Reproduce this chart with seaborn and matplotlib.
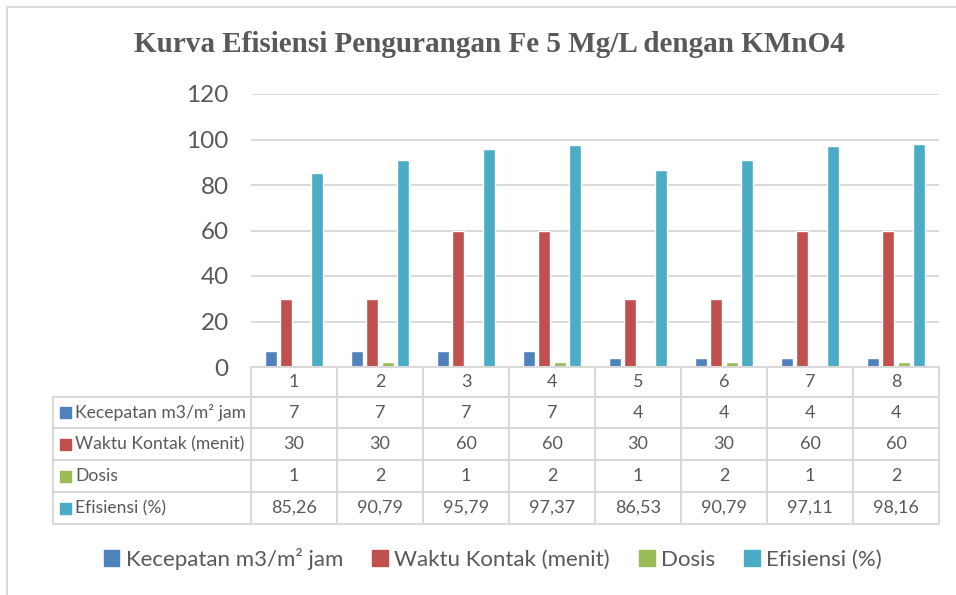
import pandas as pd
import seaborn as sns
import matplotlib.pyplot as plt
import matplotlib.transforms as mtransforms
from matplotlib.patches import Rectangle, Patch
from matplotlib.lines import Line2D

# data
percobaan = ['1', '2', '3', '4', '5', '6', '7', '8']
seri = ['Kecepatan m3/m² jam', 'Waktu Kontak (menit)', 'Dosis', 'Efisiensi (%)']
kecepatan = [7, 7, 7, 7, 4, 4, 4, 4]
waktu_kontak = [30, 30, 60, 60, 30, 30, 60, 60]
dosis = [1, 2, 1, 2, 1, 2, 1, 2]
efisiensi = [85.26, 90.79, 95.79, 97.37, 86.53, 90.79, 97.11, 98.16]
warna = ['#4F81BD', '#C0504D', '#9BBB59', '#4BACC6']

nilai = [kecepatan, waktu_kontak, dosis, efisiensi]
df = pd.DataFrame({
    'Percobaan': percobaan * 4,
    'Seri': [s for s in seri for _ in percobaan],
    'Nilai': [v for vals in nilai for v in vals],
})

W, H = 956, 595
GRAY = '#D9D9D9'
TXT = '#595959'
sns.set_style('white')
plt.rcParams['font.family'] = ['Lato', 'DejaVu Sans']

fig = plt.figure(figsize=(W / 100, H / 100), dpi=100)


def fx(x):
    return x / W


def fy(y):
    return 1 - y / H


ax = fig.add_axes([fx(251), fy(367), fx(939) - fx(251), fy(94) - fy(367)])
sns.barplot(data=df, x='Percobaan', y='Nilai', hue='Seri', palette=warna,
            saturation=1, width=0.71, gap=0.2, errorbar=None, legend=False, ax=ax)
ax.set_xlim(-0.5, len(percobaan) - 0.5)
ax.set_ylim(0, 120)
ax.set_yticks(range(0, 121, 20))
ax.set_xticks([])
ax.set_xlabel('')
ax.set_ylabel('')
ax.yaxis.grid(True, color=GRAY, lw=1.4)
ax.set_axisbelow(True)
for s in ['left', 'right', 'top']:
    ax.spines[s].set_visible(False)
ax.spines['bottom'].set_color(GRAY)
ax.spines['bottom'].set_linewidth(1.5)
ax.tick_params(axis='y', length=0, labelsize=17.5, labelcolor=TXT, pad=16)

# data table under the chart
tr = mtransforms.blended_transform_factory(ax.transData, fig.transFigure)
row_y = [397, 428, 460, 492, 524]
for i in range(len(percobaan) + 1):
    fig.add_artist(Line2D([i - 0.5, i - 0.5], [fy(367), fy(524)], transform=tr,
                          color=GRAY, lw=1.5))
fig.add_artist(Line2D([fx(53), fx(53)], [fy(397), fy(524)], color=GRAY, lw=1.5))
for y in row_y:
    fig.add_artist(Line2D([fx(53), fx(939)], [fy(y), fy(y)], color=GRAY, lw=1.5))

for i, p in enumerate(percobaan):
    fig.text(i, fy(382), p, transform=tr, ha='center', va='center', fontsize=13, color=TXT)

teks_nilai = [kecepatan, waktu_kontak, dosis,
              [f'{v:.2f}'.replace('.', ',') for v in efisiensi]]
for r, (nama, vals, c) in enumerate(zip(seri, teks_nilai, warna)):
    yc = (row_y[r] + row_y[r + 1]) / 2
    fig.add_artist(Rectangle((fx(60), fy(yc + 5.5)), fx(11), 11 / H, color=c))
    fig.text(fx(75), fy(yc), nama, ha='left', va='center', fontsize=12.6, color=TXT)
    for i, v in enumerate(vals):
        fig.text(i, fy(yc), str(v), transform=tr, ha='center', va='center',
                 fontsize=13, color=TXT)

# chart frame
fig.add_artist(Line2D([fx(7), fx(7)], [fy(7), fy(594)], color=GRAY, lw=1.5))
fig.add_artist(Line2D([fx(7), 1], [fy(7), fy(7)], color=GRAY, lw=1.5))

fig.text(fx(489), fy(44), 'Kurva Efisiensi Pengurangan Fe 5 Mg/L dengan KMnO4',
         ha='center', va='center', fontsize=21, fontweight='bold',
         family='Liberation Serif', color=TXT)

handles = [Patch(color=c) for c in warna]
fig.legend(handles, seri, loc='center', bbox_to_anchor=(fx(493), fy(559)), ncol=4,
           frameon=False, fontsize=16, handlelength=0.7, handleheight=0.7,
           handletextpad=0.3, columnspacing=1.3, labelcolor=TXT)

fig.savefig('out.png', dpi=100)
